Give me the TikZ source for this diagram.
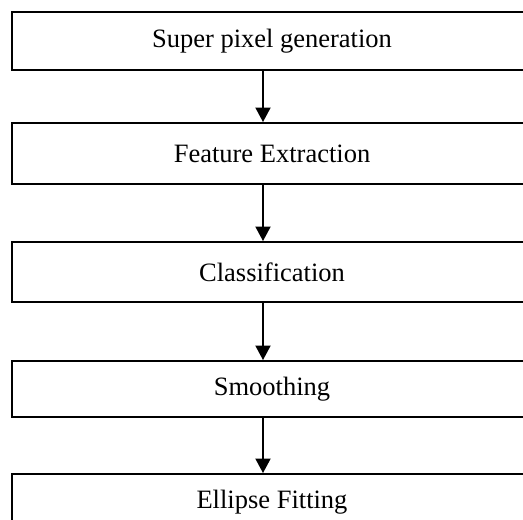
\documentclass[tikz,border=0pt]{standalone}
\usepackage{fontspec}
\setmainfont{Liberation Serif}
\usepackage{tikz}
\usetikzlibrary{arrows.meta,positioning}

\begin{document}
\begin{tikzpicture}[x=1pt,y=1pt,font=\fontsize{26.5}{30}\selectfont,
stage/.style={draw=black,line width=1.9pt,fill=white,minimum width=520pt,inner sep=0pt},
flow/.style={-{Triangle[length=14.5pt,width=15pt]},line width=1.9pt,draw=black}]

\clip(0,0)rectangle(523,520);
\node[stage,minimum height=58pt] (spx)at(272,479){Super pixel generation};
\node[stage,minimum height=61pt] (feat)at(272,366.5){Feature Extraction};
\node[stage,minimum height=60pt] (cls)at(272,248){Classification};
\node[stage,minimum height=56pt] (smo)at(272,131){Smoothing};
\node[stage,minimum height=56pt] (ell)at(272,18){Ellipse Fitting};
\draw[flow]([xshift=-9pt]spx.south)--([xshift=-9pt]feat.north);
\draw[flow]([xshift=-9pt]feat.south)--([xshift=-9pt]cls.north);
\draw[flow]([xshift=-9pt]cls.south)--([xshift=-9pt]smo.north);
\draw[flow]([xshift=-9pt]smo.south)--([xshift=-9pt]ell.north);
\end{tikzpicture}
\end{document}
